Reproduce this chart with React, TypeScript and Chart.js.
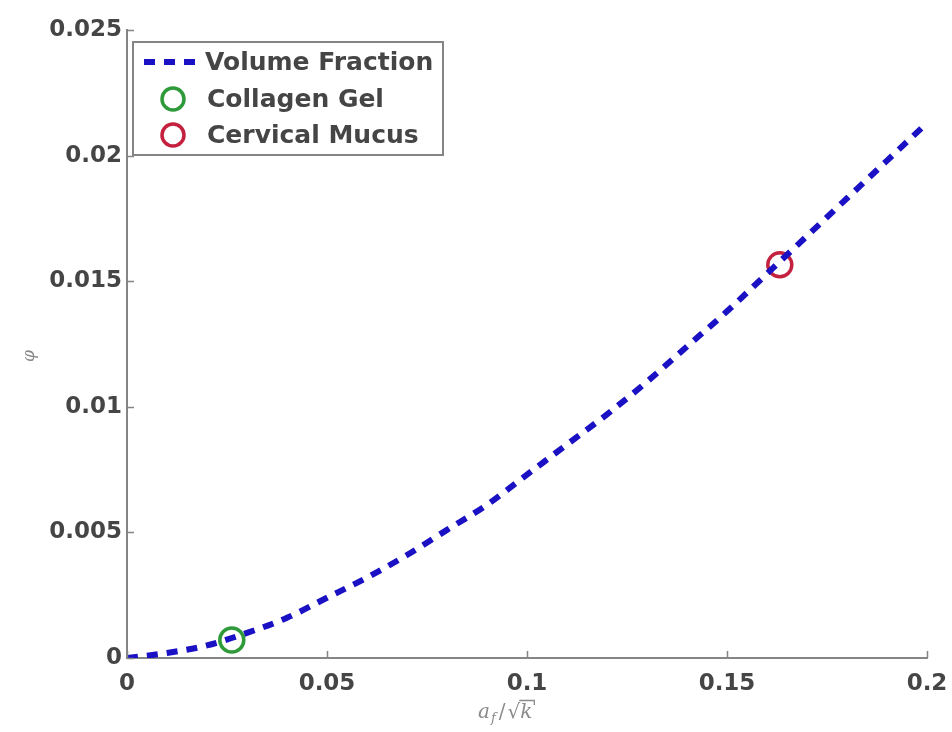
import React, { useEffect, useRef } from "react";
import { Chart, registerables } from "chart.js";

Chart.register(...registerables);

// Volume fraction curve φ against a_f/√k
const ratioValues = [0, 0.01, 0.02, 0.03, 0.04, 0.05, 0.06, 0.07, 0.08, 0.09, 0.1, 0.11, 0.12, 0.13, 0.14, 0.15, 0.16, 0.17, 0.18, 0.19, 0.2];
const volumeFraction = [0, 0.0002, 0.0005, 0.001, 0.0016, 0.0024, 0.0032, 0.0041, 0.0051, 0.0061, 0.0073, 0.0085, 0.0097, 0.011, 0.0124, 0.0138, 0.0153, 0.0168, 0.0183, 0.0198, 0.0213];

// Measured materials
const collagenGel = { x: 0.0262, y: 0.00072 };
const cervicalMucus = { x: 0.1632, y: 0.01565 };

const xTicks = [0, 0.05, 0.1, 0.15, 0.2];
const yTicks = [0, 0.005, 0.01, 0.015, 0.02, 0.025];

const LINE_BLUE = "#1a10c4";
const GEL_GREEN = "#2e9a3a";
const MUCUS_RED = "#c4213f";
const AXIS_GREY = "#858585";
const TEXT_GREY = "#454545";

const fmt = (v: number) => String(Number(v.toFixed(4)));

const overlayPlugin = {
  id: "overlay",
  afterDraw(chart: any) {
    const ctx: CanvasRenderingContext2D = chart.ctx;
    const { left, bottom } = chart.chartArea;
    const xs = chart.scales.x;
    const ys = chart.scales.y;
    ctx.save();

    // inward tick marks
    ctx.strokeStyle = AXIS_GREY;
    ctx.lineWidth = 1.5;
    ctx.beginPath();
    xTicks.forEach((t) => {
      const px = Math.round(xs.getPixelForValue(t)) + 0.5;
      ctx.moveTo(px, bottom);
      ctx.lineTo(px, bottom - 7);
    });
    yTicks.forEach((t) => {
      const py = Math.round(ys.getPixelForValue(t)) + 0.5;
      ctx.moveTo(left, py);
      ctx.lineTo(left + 7, py);
    });
    ctx.stroke();

    // legend box
    const bx = 133, by = 42, bw = 310, bh = 113;
    ctx.fillStyle = "#ffffff";
    ctx.fillRect(bx, by, bw, bh);
    ctx.strokeStyle = AXIS_GREY;
    ctx.lineWidth = 2;
    ctx.strokeRect(bx, by, bw, bh);

    ctx.font = "bold 25px 'DejaVu Sans'";
    ctx.textBaseline = "middle";
    ctx.textAlign = "left";

    // entry 1: dashed line
    ctx.strokeStyle = LINE_BLUE;
    ctx.lineWidth = 6;
    ctx.setLineDash([11, 9]);
    ctx.beginPath();
    ctx.moveTo(144, 62);
    ctx.lineTo(204, 62);
    ctx.stroke();
    ctx.setLineDash([]);
    ctx.fillStyle = TEXT_GREY;
    ctx.fillText("Volume Fraction", 205, 63);

    // entries 2 and 3: circles
    const circle = (cy: number, color: string, label: string) => {
      ctx.strokeStyle = color;
      ctx.lineWidth = 3.5;
      ctx.beginPath();
      ctx.arc(173, cy, 11, 0, Math.PI * 2);
      ctx.stroke();
      ctx.fillStyle = TEXT_GREY;
      ctx.fillText(label, 207, cy + 1);
    };
    circle(99, GEL_GREEN, "Collagen Gel");
    circle(135, MUCUS_RED, "Cervical Mucus");

    // y axis title
    ctx.save();
    ctx.translate(30, 356);
    ctx.rotate(-Math.PI / 2);
    ctx.fillStyle = "#8a8a8a";
    ctx.font = "italic 17px 'DejaVu Serif'";
    ctx.textAlign = "center";
    ctx.fillText("φ", 0, 0);
    ctx.restore();

    // x axis title: a_f / √k
    ctx.fillStyle = "#8a8a8a";
    ctx.strokeStyle = "#8a8a8a";
    ctx.textAlign = "left";
    ctx.textBaseline = "alphabetic";
    const base = 718;
    let cx = 478;
    ctx.font = "italic 20px 'DejaVu Serif'";
    ctx.fillText("a", cx, base);
    cx += ctx.measureText("a").width + 1;
    ctx.font = "italic 13px 'DejaVu Serif'";
    ctx.fillText("f", cx, base + 4);
    cx += ctx.measureText("f").width + 3;
    ctx.font = "20px 'DejaVu Serif'";
    ctx.fillText("/", cx, base);
    cx += ctx.measureText("/").width + 2;
    ctx.fillText("√", cx, base);
    cx += ctx.measureText("√").width;
    ctx.font = "italic 20px 'DejaVu Serif'";
    const kw = ctx.measureText("k").width;
    ctx.fillText("k", cx, base);
    ctx.lineWidth = 1.3;
    ctx.beginPath();
    ctx.moveTo(cx - 1, base - 17.5);
    ctx.lineTo(cx + kw + 2, base - 17.5);
    ctx.lineTo(cx + kw + 2, base - 13);
    ctx.stroke();

    ctx.restore();
  },
};

export default function App() {
  const canvasRef = useRef<HTMLCanvasElement | null>(null);

  useEffect(() => {
    if (!canvasRef.current) return;
    const tickFont = { family: "'DejaVu Sans'", weight: "bold" as const, size: 23 };
    const chart = new Chart(canvasRef.current, {
      type: "line",
      data: {
        datasets: [
          {
            label: "Volume Fraction",
            data: ratioValues.map((x, i) => ({ x, y: volumeFraction[i] })),
            borderColor: LINE_BLUE,
            borderWidth: 6,
            borderDash: [11, 9],
            pointRadius: 0,
            cubicInterpolationMode: "monotone",
            fill: false,
          },
          {
            label: "Collagen Gel",
            data: [collagenGel],
            showLine: false,
            pointRadius: 12,
            pointBorderWidth: 3.5,
            pointBorderColor: GEL_GREEN,
            pointBackgroundColor: "rgba(0,0,0,0)",
            borderColor: GEL_GREEN,
          },
          {
            label: "Cervical Mucus",
            data: [cervicalMucus],
            showLine: false,
            pointRadius: 12,
            pointBorderWidth: 3.5,
            pointBorderColor: MUCUS_RED,
            pointBackgroundColor: "rgba(0,0,0,0)",
            borderColor: MUCUS_RED,
          },
        ],
      },
      options: {
        animation: false,
        responsive: false,
        layout: { padding: { top: 30, right: 25, left: 0, bottom: 0 } },
        plugins: { legend: { display: false }, tooltip: { enabled: false } },
        scales: {
          x: {
            type: "linear",
            min: 0,
            max: 0.2,
            afterFit: (s: any) => { s.height = 74; s.paddingRight = 0; s.paddingLeft = 0; },
            afterBuildTicks: (s: any) => { s.ticks = xTicks.map((v) => ({ value: v })); },
            ticks: { color: TEXT_GREY, font: tickFont, padding: 12, maxRotation: 0, callback: (v: any) => fmt(Number(v)) },
            grid: { display: true, drawOnChartArea: false, drawTicks: false },
            border: { color: AXIS_GREY, width: 2 },
          },
          y: {
            type: "linear",
            min: 0,
            max: 0.025,
            afterFit: (s: any) => { s.width = 127; s.paddingTop = 0; s.paddingBottom = 0; },
            afterBuildTicks: (s: any) => { s.ticks = yTicks.map((v) => ({ value: v })); },
            ticks: { color: TEXT_GREY, font: tickFont, padding: 5, callback: (v: any) => fmt(Number(v)) },
            grid: { display: true, drawOnChartArea: false, drawTicks: false },
            border: { color: AXIS_GREY, width: 2 },
          },
        },
      },
      plugins: [overlayPlugin],
    });
    return () => chart.destroy();
  }, []);

  return (
    <div style={{ position: "absolute", left: 0, top: 0, width: 952, height: 732, background: "#fff" }}>
      <canvas ref={canvasRef} width={952} height={732} style={{ display: "block" }} />
    </div>
  );
}
